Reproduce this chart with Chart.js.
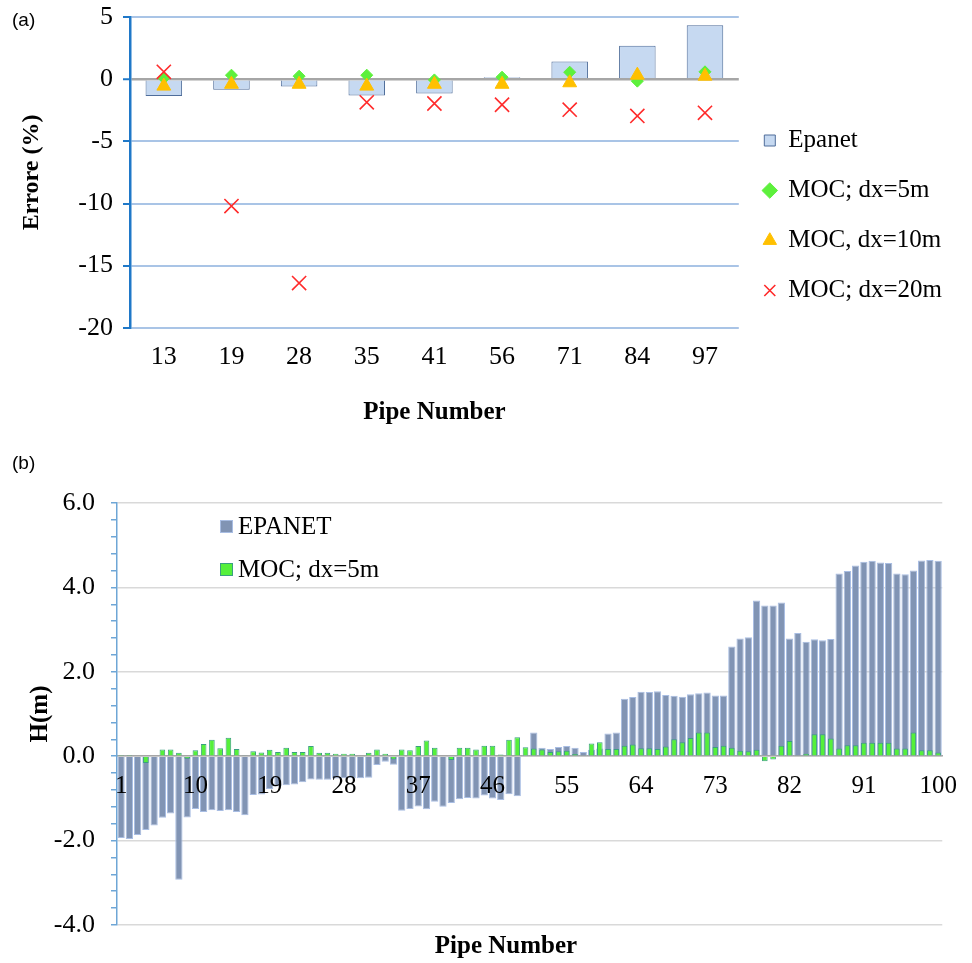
<!DOCTYPE html>
<html>
<head>
<meta charset="utf-8">
<script src="https://cdn.jsdelivr.net/npm/chart.js@4.4.1/dist/chart.umd.min.js"></script>
<style>
  body { margin:0; background:#fff; width:972px; height:963px; position:relative; overflow:hidden; }
  canvas { position:absolute; left:0; }
  .tag { position:absolute; font-family:'Liberation Sans', Arial, sans-serif; font-size:19px; color:#000; z-index:2; }
  .leg { position:absolute; left:220px; font-family:'Liberation Serif', serif; font-size:25px; color:#000; z-index:2; display:flex; align-items:center; white-space:nowrap; }
  .leg i { display:inline-block; width:11px; height:11px; margin-right:5px; border:1px solid; }
  .axtitle { position:absolute; font-family:'Liberation Serif', serif; font-weight:bold; font-size:25px; color:#000; z-index:2; transform:translate(-50%, -50%); white-space:nowrap; }
</style>
</head>
<body>
<canvas id="chartA" style="top:0" width="972" height="431"></canvas>
<canvas id="chartB" style="top:465px" width="972" height="498"></canvas>
<div class="tag" style="left:12px;top:9px">(a)</div>
<div class="tag" style="left:12px;top:452px">(b)</div>
<div class="axtitle" style="left:506px;top:945px">Pipe Number</div>
<div id="legendB"></div>
<script>
Chart.defaults.font.family = "'Liberation Serif', 'Times New Roman', serif";
Chart.defaults.color = '#000';

// panel (a): error per selected pipe
const topPipes = ['13', '19', '28', '35', '41', '56', '71', '84', '97'];
const topEpanet = [-1.35, -0.85, -0.58, -1.3, -1.14, 0.17, 1.43, 2.69, 4.35];
const topMoc5 = [0.1, 0.33, 0.25, 0.33, -0.05, 0.17, 0.57, -0.15, 0.6];
const topMoc10 = [-0.55, -0.4, -0.4, -0.55, -0.4, -0.4, -0.28, 0.33, 0.25];
const topMoc20 = [0.6, -10.2, -16.4, -1.85, -1.95, -2.05, -2.45, -2.95, -2.7];

// panel (b): head difference for all pipes
const pipeIds = Array.from({length: 100}, (_, i) => String(i + 1));
const bottomTickLabels = ['1', '10', '19', '28', '37', '46', '55', '64', '73', '82', '91', '100'];
const epanetH = [
  -1.94, -1.96, -1.87, -1.75, -1.64, -1.46, -1.36, -2.93, -1.45, -1.25,
  -1.32, -1.28, -1.30, -1.28, -1.32, -1.40, -0.92, -0.91, -0.78, -0.72,
  -0.69, -0.67, -0.62, -0.55, -0.56, -0.56, -0.53, -0.52, -0.52, -0.52,
  -0.51, -0.21, -0.13, -0.20, -1.29, -1.25, -1.19, -1.26, -1.08, -1.20,
  -1.11, -1.02, -0.99, -1.00, -0.93, -1.00, -1.04, -0.90, -0.95, 0.03,
  0.56, 0.20, 0.17, 0.22, 0.24, 0.20, 0.10, 0.15, 0.18, 0.54,
  0.56, 1.36, 1.40, 1.53, 1.52, 1.54, 1.45, 1.43, 1.41, 1.47,
  1.49, 1.51, 1.44, 1.44, 2.60, 2.79, 2.82, 3.69, 3.57, 3.57,
  3.64, 2.79, 2.92, 2.71, 2.77, 2.75, 2.78, 4.33, 4.39, 4.52,
  4.61, 4.63, 4.59, 4.58, 4.33, 4.31, 4.40, 4.64, 4.65, 4.63
];
const mocH = [
  0.03, 0.03, 0.0, -0.16, 0.0, 0.16, 0.16, 0.08, -0.06, 0.14,
  0.29, 0.39, 0.19, 0.44, 0.17, 0.02, 0.12, 0.09, 0.15, 0.10,
  0.20, 0.10, 0.10, 0.24, 0.08, 0.08, 0.06, 0.06, 0.06, -0.02,
  0.08, 0.16, 0.06, -0.08, 0.16, 0.14, 0.24, 0.37, 0.20, 0.0,
  -0.09, 0.20, 0.20, 0.16, 0.25, 0.25, 0.04, 0.39, 0.45, 0.21,
  0.18, 0.16, 0.10, 0.12, 0.13, 0.05, 0.02, 0.30, 0.33, 0.17,
  0.17, 0.25, 0.28, 0.19, 0.19, 0.17, 0.23, 0.40, 0.33, 0.43,
  0.56, 0.56, 0.22, 0.25, 0.20, 0.13, 0.12, 0.15, -0.12, -0.08,
  0.25, 0.36, 0.02, 0.06, 0.52, 0.52, 0.42, 0.18, 0.26, 0.26,
  0.32, 0.32, 0.32, 0.32, 0.18, 0.18, 0.56, 0.14, 0.14, 0.09
];

const isMajor = v => Math.abs(v / 2 - Math.round(v / 2)) < 1e-6;

new Chart(document.getElementById('chartA'), {
  type: 'bar',
  data: {
    labels: topPipes,
    datasets: [
      { type: 'bar', label: 'Epanet', data: topEpanet, backgroundColor: '#c6d9f1', borderColor: '#4f6d9a',
        borderWidth: 1, barPercentage: 0.54, categoryPercentage: 1, pointStyle: 'rect', order: 10 },
      { type: 'line', label: 'MOC; dx=5m', data: topMoc5, showLine: false, pointStyle: 'rectRot', pointRadius: 6,
        backgroundColor: '#5df03c', borderColor: '#5df03c', order: 3 },
      { type: 'line', label: 'MOC, dx=10m', data: topMoc10, showLine: false, pointStyle: 'triangle', pointRadius: 8,
        backgroundColor: '#ffc000', borderColor: '#ffc000', order: 2 },
      { type: 'line', label: 'MOC; dx=20m', data: topMoc20, showLine: false, pointStyle: 'crossRot', pointRadius: 10,
        borderWidth: 1.6, backgroundColor: '#ff2b2b', borderColor: '#ff2b2b', order: 1 }
    ]
  },
  options: {
    responsive: false,
    animation: false,
    layout: { padding: { top: 3, right: 20, bottom: 3, left: 0 } },
    plugins: {
      legend: {
        position: 'right',
        labels: { usePointStyle: true, boxWidth: 12, boxHeight: 11, padding: 25, font: { size: 25 },
          sort: (a, b) => a.datasetIndex - b.datasetIndex }
      },
      tooltip: { enabled: false }
    },
    scales: {
      x: {
        grid: { display: false, drawTicks: false },
        border: { display: false },
        ticks: { padding: 14, font: { size: 26 } },
        title: { display: true, text: 'Pipe Number', font: { size: 25, weight: 'bold' }, padding: { top: 11, bottom: 0 } }
      },
      y: {
        min: -20, max: 5,
        ticks: { stepSize: 5, padding: 10, font: { size: 26, lineHeight: 0.55 } },
        grid: {
          color: ctx => ctx.tick && ctx.tick.value === 0 ? '#a6a6a6' : '#a9c4e6',
          lineWidth: ctx => ctx.tick && ctx.tick.value === 0 ? 2.5 : 2,
          tickColor: '#1f78c8', tickLength: 7, tickWidth: 2
        },
        border: { color: '#1f78c8', width: 2.5 },
        title: { display: true, text: 'Errore (%)', font: { size: 24, weight: 'bold' }, padding: { top: 17, bottom: 0 } },
        afterFit: s => { s.width = 130; }
      }
    }
  }
});

const chartB = new Chart(document.getElementById('chartB'), {
  type: 'bar',
  data: {
    labels: pipeIds,
    datasets: [
      { label: 'EPANET', data: epanetH, backgroundColor: '#8194b4', borderColor: '#a8bde3', borderWidth: 1,
        barPercentage: 0.88, categoryPercentage: 1, grouped: false, order: 2 },
      { label: 'MOC; dx=5m', data: mocH, backgroundColor: '#55f03a', borderColor: '#3a9f80', borderWidth: 1,
        barPercentage: 0.68, categoryPercentage: 1, grouped: false, order: 1 }
    ]
  },
  options: {
    responsive: false,
    animation: false,
    layout: { padding: { top: 38, right: 20, bottom: 38, left: 0 } },
    plugins: {
      legend: { display: false },
      tooltip: { enabled: false }
    },
    scales: {
      x: {
        position: { y: 0 },
        grid: { display: false, drawTicks: false },
        border: { color: '#a6a6a6', width: 1.5 },
        ticks: { autoSkip: false, maxRotation: 0, padding: 15, font: { size: 25 }, z: 1,
          callback: (v, i) => bottomTickLabels.includes(pipeIds[i]) ? pipeIds[i] : '' }
      },
      y: {
        min: -4, max: 6,
        ticks: { autoSkip: false, padding: 16, font: { size: 26 }, callback: v => isMajor(v) ? v.toFixed(1) : '' },
        // major unit 2.0, minor unit 0.4
        afterBuildTicks: s => {
          const ticks = [];
          for (let k = 0; k <= 25; k++) ticks.push({ value: Math.round((-4 + k * 0.4) * 10) / 10 });
          s.ticks = ticks;
        },
        grid: {
          color: ctx => ctx.tick && isMajor(ctx.tick.value) ? '#d9d9d9' : 'rgba(0,0,0,0)',
          lineWidth: 1.5, tickColor: '#6ea6d6', tickLength: 6
        },
        border: { color: '#6ea6d6', width: 1.5 },
        title: { display: true, text: 'H(m)', font: { size: 25, weight: 'bold' }, padding: { top: 26, bottom: 0 } },
        afterFit: s => { s.width = 117; }
      }
    }
  }
});

// legend of panel (b) sits inside the plot area
const legendB = document.getElementById('legendB');
chartB.data.datasets.forEach((ds, k) => {
  const row = document.createElement('div');
  row.className = 'leg';
  row.style.top = (512 + k * 43) + 'px';
  row.innerHTML = '<i style="background:' + ds.backgroundColor + ';border-color:' + ds.borderColor + '"></i>' + ds.label;
  legendB.appendChild(row);
});
</script>
</body>
</html>
